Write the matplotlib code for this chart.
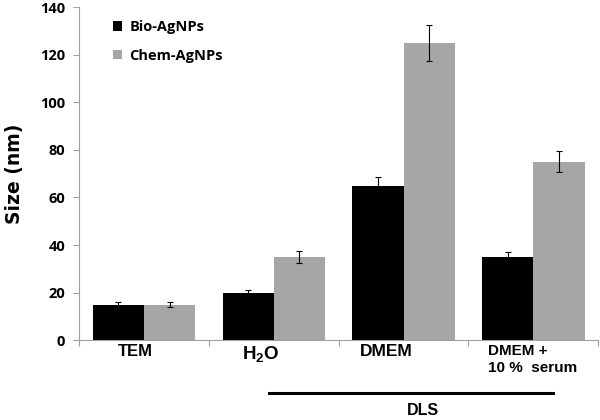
import numpy as np
import matplotlib
matplotlib.use("Agg")
import matplotlib.pyplot as plt

plt.rcParams['font.family'] = ['Open Sans', 'DejaVu Sans']
plt.rcParams['mathtext.fontset'] = 'custom'
plt.rcParams['mathtext.bf'] = 'Liberation Sans:bold'
plt.rcParams['mathtext.rm'] = 'Liberation Sans:bold'
plt.rcParams['mathtext.default'] = 'bf'

categories = ['TEM', 'H$_2$O', 'DMEM', 'DMEM +\n10 %  serum']
series = ['Bio-AgNPs', 'Chem-AgNPs']
bio_vals = [15, 20, 65, 35]
bio_err = [1, 1.2, 3.5, 2]
chem_vals = [15, 35, 125, 75]
chem_err = [1.2, 2.5, 7.5, 4.5]
colors = ['#000000', '#a6a6a6']

fig = plt.figure(figsize=(6, 4.2), dpi=100)
ax = fig.add_axes([0.132, 0.19, 0.865, 0.793])

x = np.arange(len(categories))
w = 0.395
ekw = dict(ecolor='black', elinewidth=0.8, capsize=2.5, capthick=0.8)
ax.bar(x - w / 2, bio_vals, w, yerr=bio_err, color=colors[0], label=series[0], error_kw=ekw)
ax.bar(x + w / 2, chem_vals, w, yerr=chem_err, color=colors[1], label=series[1], error_kw=ekw)

ax.set_xlim(-0.5, len(categories) - 0.5)
ax.set_ylim(0, 140)
ax.set_yticks(range(0, 141, 20))
ax.tick_params(axis='y', labelsize=10.5, length=4, color='#a0a0a0', pad=6)
for lab in ax.get_yticklabels():
    lab.set_fontweight('bold')

# category boundaries as x ticks
ax.set_xticks(np.arange(-0.5, len(categories), 1.0))
ax.set_xticklabels([])
ax.tick_params(axis='x', length=4, color='#a0a0a0')

# label placement (offset from category centre, size, alignment)
lab_off = [-0.07, -0.10, -0.13, -0.35]
lab_size = [12, 13.5, 12.5, 11]
lab_ha = ['center', 'center', 'center', 'left']
xt = ax.get_xaxis_transform()
for i, c in enumerate(categories):
    ax.text(i + lab_off[i], -0.012, c, transform=xt, ha=lab_ha[i], va='top',
            fontsize=lab_size[i], fontweight='bold', family='Liberation Sans',
            multialignment='left', linespacing=1.3)

for side in ['top', 'right']:
    ax.spines[side].set_visible(False)
for side in ['left', 'bottom']:
    ax.spines[side].set_color('#a0a0a0')

ax.set_ylabel('Size (nm)', fontsize=13.5, fontweight='bold', family='DejaVu Sans', labelpad=12)

# DLS bracket under the DLS categories
ax.plot([0.96, 3.15], [-0.159, -0.159], color='black', lw=2.2,
        transform=xt, clip_on=False)
ax.text(2.15, -0.212, 'DLS', transform=xt, ha='center', va='center',
        fontsize=11.5, fontweight='bold', family='Liberation Sans')

leg = ax.legend(loc='upper left', bbox_to_anchor=(0.04, 1.0), frameon=False,
                handlelength=0.6, handleheight=0.6, handletextpad=0.5,
                labelspacing=1.0, prop={'weight': 'bold', 'size': 10.5})

fig.savefig('out.png', dpi=100)
